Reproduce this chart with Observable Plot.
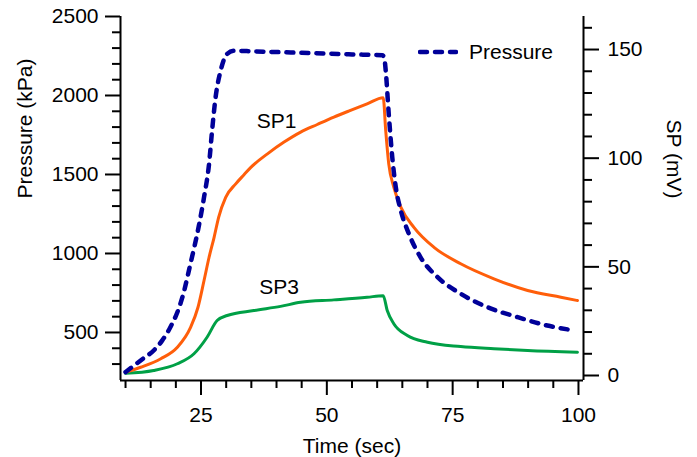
<!DOCTYPE html>
<html>
<head>
<meta charset="utf-8">
<script src="https://cdn.jsdelivr.net/npm/d3@7"></script>
<script src="https://cdn.jsdelivr.net/npm/@observablehq/plot@0.6"></script>
<style>
  body { margin: 0; background: #fff; }
  #wrap { position: relative; width: 697px; height: 457px; font-family: "Liberation Sans", Arial, sans-serif; }
  #legend { position: absolute; left: 418px; top: 40px; display: flex; align-items: center; font-size: 21px; color: #000; }
  #legend svg { margin-right: 11px; }
</style>
</head>
<body>
<div id="wrap"><div id="legend"><svg width="40" height="10"><line x1="2" y1="5" x2="38" y2="5" stroke="#000099" stroke-width="4.5" stroke-dasharray="7,8" stroke-linecap="round"/></svg><span>Pressure</span></div></div>
<script>
// ---- data ----
const pressureTime = [10, 11.7, 13.5, 15.6, 17.3, 18.9, 20.2, 21.3, 22.9, 24.6, 25.6, 26.6, 27.2, 27.9, 28.9, 30.2, 31.5, 35, 40, 45, 50, 55, 61.0, 61.4, 61.7, 62.3, 63.0, 63.7, 64.7, 66.3, 68.6, 72.0, 76.6, 81.9, 87.9, 93.8, 99.1];
const pressureKPa  = [249, 291, 335, 386, 450, 533, 620, 723, 935, 1180, 1356, 1568, 1778, 1989, 2158, 2264, 2283, 2280, 2275, 2270, 2265, 2260, 2255, 2240, 2158, 1884, 1610, 1420, 1272, 1125, 977, 850, 745, 660, 597, 544, 513];

const sp1Time = [10, 13, 17, 20.3, 22.9, 24.4, 25.6, 26.6, 27.6, 28.5, 29.9, 31.9, 33.5, 34.9, 38.2, 41.5, 44.8, 48.1, 51.4, 54.7, 58, 61.2, 61.7, 62.3, 63.3, 64.7, 67.3, 71.3, 76.6, 83.2, 89.9, 96.5, 99.8];
const sp1mV   = [1.5, 3.8, 7.7, 13, 22, 31.4, 43.7, 54.4, 63.6, 72.8, 82, 88.2, 92.3, 95.8, 102, 107.4, 112, 115.5, 118.9, 122, 125, 127.8, 112.7, 97.4, 86.7, 77.5, 68.2, 59, 51.4, 44.5, 39.1, 36, 34.5];

const sp3Time = [10, 15.6, 20.3, 23.6, 26.2, 28.2, 30.2, 35.5, 40.8, 44.8, 51.4, 58, 61.2, 62, 63.3, 66, 70, 76.6, 83.2, 89.9, 99.8];
const sp3mV   = [1, 2.3, 5.4, 10, 17.6, 25.3, 27.6, 29.9, 31.8, 33.7, 34.8, 36, 36.7, 29.9, 23.8, 18.4, 15.3, 13.3, 12.3, 11.5, 10.7];

const seriesLabels = ["SP1", "SP3"];
const labelTime = [40, 40.5];
const labelmV = [117, 40.5];

const xMajorTicks = [25, 50, 75, 100];
const xMinorTicks = [10, 15, 20, 30, 35, 40, 45, 55, 60, 65, 70, 80, 85, 90, 95];
const pMajorTicks = [500, 1000, 1500, 2000, 2500];
const pMinorTicks = [300, 400, 600, 700, 800, 900, 1100, 1200, 1300, 1400, 1600, 1700, 1800, 1900, 2100, 2200, 2300, 2400];
const spMajorTicks = [0, 50, 100, 150];
const spMinorTicks = [10, 20, 30, 40, 60, 70, 80, 90, 110, 120, 130, 140, 160];

// ---- scales ----
const xDomain = [9, 101];
const pDomain = [196, 2500];
const spDomain = [-2.3, 165.2];
const toP = s => pDomain[0] + (s - spDomain[0]) * (pDomain[1] - pDomain[0]) / (spDomain[1] - spDomain[0]);
const fromP = p => spDomain[0] + (p - pDomain[0]) * (spDomain[1] - spDomain[0]) / (pDomain[1] - pDomain[0]);

const pressure = pressureTime.map((t, i) => ({t, v: pressureKPa[i]}));
const sp1 = sp1Time.map((t, i) => ({t, v: toP(sp1mV[i])}));
const sp3 = sp3Time.map((t, i) => ({t, v: toP(sp3mV[i])}));
const labels = seriesLabels.map((s, i) => ({s, t: labelTime[i], v: toP(labelmV[i])}));

const font = 21;
const chart = Plot.plot({
  width: 697,
  height: 457,
  marginLeft: 120,
  marginRight: 114,
  marginTop: 16,
  marginBottom: 77,
  style: {fontFamily: "Liberation Sans, Arial, sans-serif", fontSize: font + "px", color: "#000", background: "#fff"},
  x: {domain: xDomain},
  y: {domain: pDomain},
  marks: [
    // frame lines (left, right, bottom)
    Plot.ruleX([xDomain[0], xDomain[1]], {stroke: "#000", strokeWidth: 2}),
    Plot.ruleY([pDomain[0]], {stroke: "#000", strokeWidth: 2}),
    // x axis
    Plot.axisX(xMajorTicks, {anchor: "bottom", tickSize: 15, tickPadding: 12, strokeWidth: 2, fontSize: font, tickFormat: d => String(d), label: null}),
    Plot.axisX(xMinorTicks, {anchor: "bottom", tickSize: 8, strokeWidth: 2, tickFormat: () => "", label: null}),
    // left axis
    Plot.axisY(pMajorTicks, {anchor: "left", tickSize: 15, tickPadding: 7, strokeWidth: 2, fontSize: font, tickFormat: d => String(d), label: null}),
    Plot.axisY(pMinorTicks, {anchor: "left", tickSize: 8, strokeWidth: 2, tickFormat: () => "", label: null}),
    // right axis (SP in mV)
    Plot.axisY(spMajorTicks.map(toP), {anchor: "right", tickSize: 15, tickPadding: 9, strokeWidth: 2, fontSize: font, tickFormat: d => String(Math.round(fromP(d))), label: null}),
    Plot.axisY(spMinorTicks.map(toP), {anchor: "right", tickSize: 8, strokeWidth: 2, tickFormat: () => "", label: null}),
    // axis titles
    Plot.text(["Time (sec)"], {frameAnchor: "bottom", text: d => d, dy: 66, fontSize: font, lineAnchor: "middle"}),
    Plot.text(["Pressure (kPa)"], {frameAnchor: "left", text: d => d, rotate: -90, dx: -95, fontSize: font, lineAnchor: "middle"}),
    Plot.text(["SP (mV)"], {frameAnchor: "right", text: d => d, rotate: 90, dx: 90, fontSize: font, lineAnchor: "middle"}),
    // series
    Plot.line(sp3, {x: "t", y: "v", stroke: "#00a046", strokeWidth: 3, curve: "monotone-x"}),
    Plot.line(sp1, {x: "t", y: "v", stroke: "#ff5e0a", strokeWidth: 3, curve: "monotone-x"}),
    Plot.line(pressure, {x: "t", y: "v", stroke: "#000099", strokeWidth: 4.5, strokeDasharray: "7,8", strokeLinecap: "round", curve: "monotone-x"}),
    Plot.text(labels, {x: "t", y: "v", text: "s", fontSize: font, lineAnchor: "middle"})
  ]
});
document.getElementById("wrap").prepend(chart);
chart.style.position = "absolute";
chart.style.left = "0";
chart.style.top = "0";
</script>
</body>
</html>
